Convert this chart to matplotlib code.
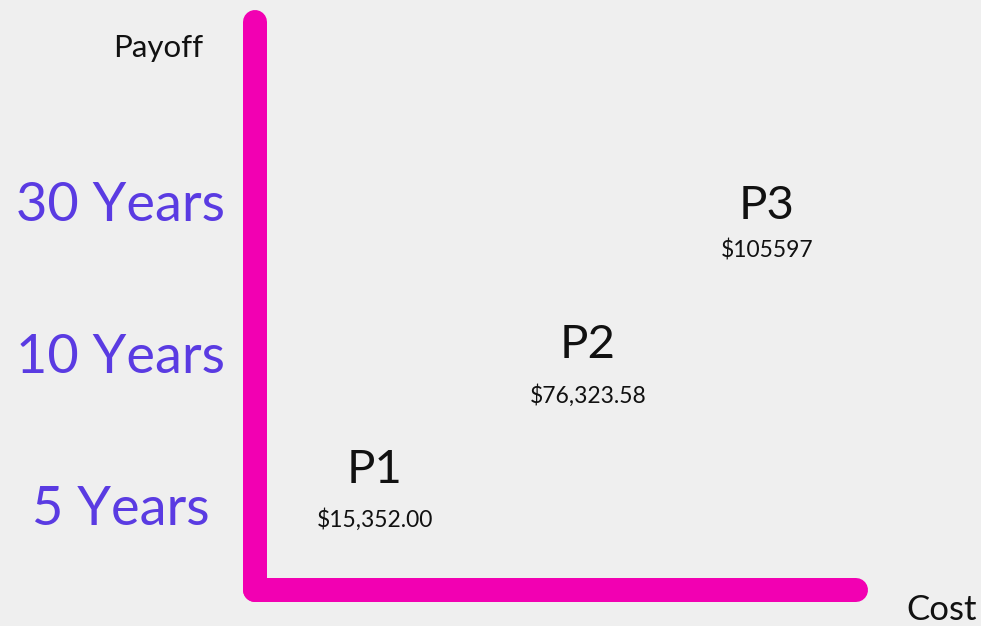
import matplotlib
matplotlib.use("Agg")
import matplotlib.pyplot as plt
from matplotlib.transforms import blended_transform_factory

# ---- data ----
projects = ["P1", "P2", "P3"]
costs = ["$15,352.00", "$76,323.58", "$105597"]
payoff_levels = ["5 Years", "10 Years", "30 Years"]
project_payoff = [0, 1, 2]          # index into payoff_levels
x_label, y_label = "Cost", "Payoff"

# ---- layout (pixel nudges for annotations) ----
name_offsets = [(0, 22), (17, -5), (0, -18)]
cost_offsets = [(0, -22), (17, -50), (0, -56)]

W, H = 981, 626
BG = "#efefef"
PINK = "#f200b2"
PURPLE = "#5a3be2"
FONT = ["Lato", "DejaVu Sans"]
plt.rcParams["font.family"] = FONT

fig = plt.figure(figsize=(W / 100, H / 100), dpi=100, facecolor=BG)
ax = fig.add_axes([255 / W, 36 / H, 601 / W, 568 / H])
ax.set_facecolor(BG)
ax.set_xlim(-0.612, 2.454)
ax.set_ylim(-0.559, 3.178)
ax.set_xticks([])
ax.set_yticks([])
for s in ["top", "right"]:
    ax.spines[s].set_visible(False)
for s in ["left", "bottom"]:
    sp = ax.spines[s]
    sp.set_color(PINK)
    sp.set_linewidth(24 * 0.72)
    sp.set_capstyle("round")

# y-level labels
tr = blended_transform_factory(fig.transFigure, ax.transData)
for i, lab in enumerate(payoff_levels):
    ax.annotate(lab, xy=(121 / W, i), xycoords=tr, xytext=(0, -20),
                textcoords="offset pixels", ha="center", va="baseline",
                fontsize=39, color=PURPLE, annotation_clip=False)

# project labels
for i, (p, c, lvl) in enumerate(zip(projects, costs, project_payoff)):
    ax.annotate(p, xy=(i, lvl), xytext=name_offsets[i], textcoords="offset pixels",
                ha="center", va="baseline", fontsize=34, color="#111111")
    ax.annotate(c, xy=(i, lvl), xytext=cost_offsets[i], textcoords="offset pixels",
                ha="center", va="baseline", fontsize=16.5, color="#111111")

fig.text(158 / W, 1 - 57 / H, y_label, ha="center", va="baseline",
         fontsize=22.5, color="#111111")
fig.text(942 / W, 1 - 620 / H, x_label, ha="center", va="baseline",
         fontsize=25, color="#111111")

fig.savefig("out.png", dpi=100, facecolor=BG)
